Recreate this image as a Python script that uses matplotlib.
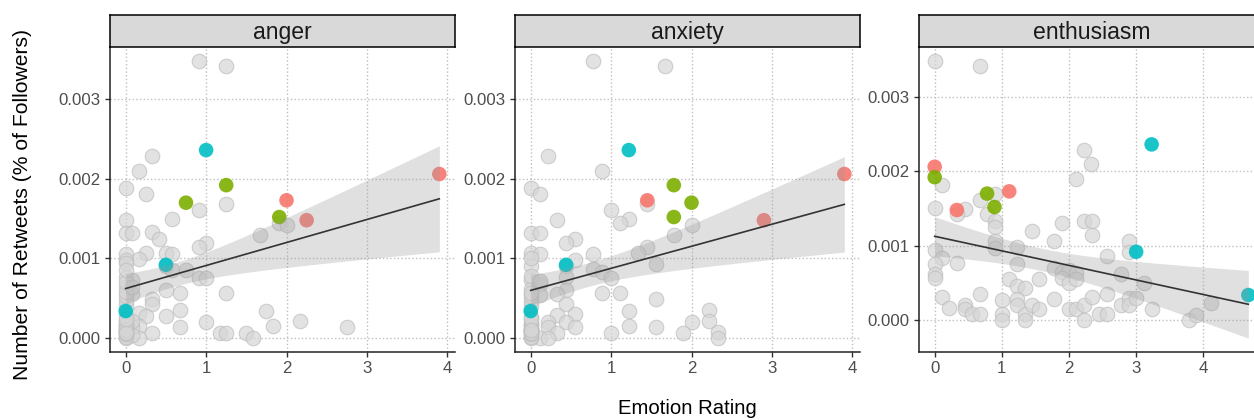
import numpy as np
import matplotlib
matplotlib.use("Agg")
from matplotlib import pyplot as plt

plt.rcParams['font.family'] = ['Liberation Sans', 'DejaVu Sans']

panels = ["anger", "anxiety", "enthusiasm"]

# grey points (x = emotion rating, y = retweets as share of followers)
anger_x = [0.91, 1.25, 0.33, 0.17, 0.0, 0.25, 1.25, 0.91, 0.58, 0.0, 0.0, 0.08, 0.33, 0.42, 1.91,
           2.0, 1.67, 1.0, 0.91, 0.25, 0.0, 0.5, 0.58, 0.17, 0.0, 0.0, 0.5, 0.58, 0.75, 0.91,
           1.0, 0.0, 0.08, 0.0, 0.08, 0.5, 0.67, 1.25, 0.33, 0.33, 0.17, 0.25, 0.5, 0.67, 0.0,
           0.17, 0.67, 0.33, 1.0, 1.17, 1.25, 1.5, 1.58, 1.75, 1.83, 2.17, 2.75, 0.0, 0.0, 0.17,
           0.08, 0.0, 0.0, 0.0, 0.0, 0.0, 0.0, 0.0, 0.0, 0.0, 0.08, 0.08, 0.08,
           0.0, 0.0, 0.0, 0.0, 0.0, 0.0, 0.0, 0.0, 0.0, 0.0]
anger_y = [0.00348, 0.00341, 0.00228, 0.00210, 0.00188, 0.00181, 0.00168, 0.00161, 0.00150, 0.00148,
           0.00132, 0.00132, 0.00133, 0.00125, 0.00145, 0.00142, 0.00130, 0.00119, 0.00114, 0.00107,
           0.00106, 0.00107, 0.00106, 0.00099, 0.00098, 0.00094, 0.00091, 0.00085, 0.00086, 0.00076,
           0.00075, 0.00077, 0.00073, 0.00064, 0.00056, 0.00060, 0.00057, 0.00057, 0.00049, 0.00043,
           0.00031, 0.00028, 0.00028, 0.00035, 0.00022, 0.00015, 0.00014, 0.00007, 0.00020, 0.00007,
           0.00007, 0.00007, 0.00000, 0.00034, 0.00015, 0.00022, 0.00014, 0.00010, 0.00000, 0.00000,
           0.00014, 0.00005, 0.00016, 0.00028, 0.00040, 0.00047, 0.00053, 0.00058, 0.00070, 0.00085,
           0.00004, 0.00022, 0.00064,
           0.00002, 0.00005, 0.00008, 0.00010, 0.00012, 0.00015, 0.00018, 0.00010, 0.00006, 0.00024]

anxiety_x = [0.78, 1.67, 0.22, 0.89, 0.0, 0.11, 1.45, 1.0, 1.22, 1.11, 0.33, 0.0, 0.11, 2.0, 1.78,
             0.55, 0.44, 1.45, 1.33, 0.78, 0.0, 0.11, 0.55, 0.0, 0.44, 1.56, 0.78, 0.89, 1.0, 0.44,
             0.0, 0.11, 0.0, 0.44, 0.33, 0.11, 0.89, 1.11, 0.44, 1.56, 0.33, 0.55, 1.22, 2.22, 0.22,
             0.44, 2.0, 2.22, 0.22, 0.55, 1.22, 1.56, 0.33, 1.0, 1.89, 2.33, 2.33, 0.11, 0.22, 0.0,
             0.0, 0.0, 0.0, 0.0, 0.0, 0.0, 0.0, 0.0, 0.0, 0.11,
             0.0, 0.0, 0.0, 0.0, 0.0, 0.0, 0.0, 0.0, 0.0, 0.0, 0.0]
anxiety_y = [0.00348, 0.00341, 0.00228, 0.00210, 0.00188, 0.00181, 0.00168, 0.00161, 0.00150, 0.00144,
             0.00148, 0.00132, 0.00132, 0.00142, 0.00130, 0.00125, 0.00120, 0.00114, 0.00107, 0.00106,
             0.00107, 0.00105, 0.00098, 0.00091, 0.00091, 0.00093, 0.00087, 0.00083, 0.00075, 0.00077,
             0.00073, 0.00068, 0.00062, 0.00060, 0.00056, 0.00054, 0.00057, 0.00057, 0.00043, 0.00049,
             0.00029, 0.00030, 0.00034, 0.00035, 0.00020, 0.00020, 0.00020, 0.00021, 0.00014, 0.00014,
             0.00015, 0.00014, 0.00007, 0.00007, 0.00007, 0.00008, 0.00000, 0.00000, 0.00000, 0.00000,
             0.00010, 0.00018, 0.00026, 0.00040, 0.00047, 0.00053, 0.00057, 0.00078, 0.00100, 0.00072,
             0.00002, 0.00005, 0.00008, 0.00010, 0.00012, 0.00015, 0.00018, 0.00010, 0.00006, 0.00024,
             0.00010]

enthusiasm_x = [0.0, 0.67, 2.22, 2.33, 2.11, 0.11, 0.0, 0.67, 0.45, 0.33, 0.78, 0.9, 0.9, 0.9, 0.9,
                0.9, 1.89, 2.22, 2.34, 2.34, 1.45, 1.78, 1.22, 0.0, 0.11, 2.89, 2.89, 2.56, 0.33, 0.0,
                1.22, 0.0, 0.0, 1.78, 1.89, 2.0, 2.11, 1.89, 2.0, 2.11, 2.78, 3.12, 1.11, 1.55, 1.22,
                1.34, 0.11, 0.67, 1.0, 1.22, 1.22, 0.22, 0.45, 0.45, 0.56, 0.67, 1.0, 1.0, 1.34, 1.34,
                1.45, 1.55, 1.78, 2.0, 2.11, 2.22, 2.22, 2.34, 2.45, 2.56, 2.56, 2.78, 2.89, 2.89, 3.0,
                3.23, 3.78, 3.89, 4.11]
enthusiasm_y = [0.00348, 0.00341, 0.00229, 0.00210, 0.00189, 0.00181, 0.00151, 0.00161, 0.00149, 0.00143,
                0.00143, 0.00169, 0.00133, 0.00125, 0.00107, 0.00097, 0.00131, 0.00133, 0.00133, 0.00115,
                0.00120, 0.00106, 0.00098, 0.00094, 0.00084, 0.00106, 0.00092, 0.00086, 0.00077, 0.00076,
                0.00076, 0.00062, 0.00057, 0.00070, 0.00065, 0.00068, 0.00064, 0.00057, 0.00050, 0.00055,
                0.00062, 0.00050, 0.00056, 0.00056, 0.00046, 0.00044, 0.00032, 0.00035, 0.00028, 0.00029,
                0.00021, 0.00016, 0.00021, 0.00015, 0.00008, 0.00008, 0.00008, 0.00000, 0.00008, 0.00000,
                0.00021, 0.00015, 0.00029, 0.00015, 0.00015, 0.00021, 0.00000, 0.00031, 0.00008, 0.00008,
                0.00035, 0.00021, 0.00030, 0.00021, 0.00030, 0.00015, 0.00000, 0.00007, 0.00023]

# highlighted tweets: red, green, cyan groups
anger_red_x, anger_red_y = [3.9, 2.0, 2.25], [0.00206, 0.00173, 0.00148]
anger_green_x, anger_green_y = [0.75, 1.25, 1.91], [0.00170, 0.00192, 0.00152]
anger_cyan_x, anger_cyan_y = [1.0, 0.5, 0.0], [0.00236, 0.00092, 0.00034]

anxiety_red_x, anxiety_red_y = [3.9, 1.45, 2.9], [0.00206, 0.00173, 0.00148]
anxiety_green_x, anxiety_green_y = [1.78, 2.0, 1.78], [0.00192, 0.00170, 0.00152]
anxiety_cyan_x, anxiety_cyan_y = [1.22, 0.44, 0.0], [0.00236, 0.00092, 0.00034]

enthusiasm_red_x, enthusiasm_red_y = [0.0, 1.11, 0.33], [0.00206, 0.00173, 0.00148]
enthusiasm_green_x, enthusiasm_green_y = [0.0, 0.78, 0.89], [0.00192, 0.00170, 0.00152]
enthusiasm_cyan_x, enthusiasm_cyan_y = [3.23, 3.0, 4.67], [0.00236, 0.00092, 0.00034]

grey = {"anger": (anger_x, anger_y), "anxiety": (anxiety_x, anxiety_y),
        "enthusiasm": (enthusiasm_x, enthusiasm_y)}
colored = {
    "anger": [(anger_red_x, anger_red_y), (anger_green_x, anger_green_y), (anger_cyan_x, anger_cyan_y)],
    "anxiety": [(anxiety_red_x, anxiety_red_y), (anxiety_green_x, anxiety_green_y),
                (anxiety_cyan_x, anxiety_cyan_y)],
    "enthusiasm": [(enthusiasm_red_x, enthusiasm_red_y), (enthusiasm_green_x, enthusiasm_green_y),
                   (enthusiasm_cyan_x, enthusiasm_cyan_y)],
}
group_colors = ["#F8766D", "#7CAE00", "#00BFC4"]

fig = plt.figure(figsize=(12.54, 4.2), dpi=100)

W, H = 1254, 420
lefts = [110, 515, 919]
pw = 345
top, bottom, strip_top = 47, 352, 15

for name, left in zip(panels, lefts):
    ax = fig.add_axes([left / W, 1 - bottom / H, pw / W, (bottom - top) / H])
    gx, gy = np.array(grey[name][0]), np.array(grey[name][1])
    ax.scatter(gx, gy, s=110, facecolor="#D6D6D6", edgecolor="#BDBDBD", linewidth=0.8,
               alpha=0.7, zorder=2)
    allx, ally = [gx], [gy]
    for (cx, cy), col in zip(colored[name], group_colors):
        ax.scatter(cx, cy, s=110, color=col, edgecolor="none", alpha=0.9, zorder=3)
        allx.append(np.array(cx))
        ally.append(np.array(cy))
    x = np.concatenate(allx)
    y = np.concatenate(ally)

    # linear fit with 95% confidence band
    n = len(x)
    b, a = np.polyfit(x, y, 1)
    resid = y - (a + b * x)
    s = np.sqrt(np.sum(resid ** 2) / (n - 2))
    xbar = x.mean()
    sxx = np.sum((x - xbar) ** 2)
    xs = np.linspace(x.min(), x.max(), 80)
    ys = a + b * xs
    se = s * np.sqrt(1 / n + (xs - xbar) ** 2 / sxx)
    lo, hi = ys - 1.984 * se, ys + 1.984 * se
    ax.fill_between(xs, lo, hi, color="#999999", alpha=0.3, linewidth=0, zorder=4)
    ax.plot(xs, ys, color="#333333", linewidth=1.2, zorder=5)

    xr = x.max() - x.min()
    ax.set_xlim(x.min() - 0.05 * xr, x.max() + 0.05 * xr)
    ymin, ymax = min(y.min(), lo.min()), max(y.max(), hi.max())
    yr = ymax - ymin
    ax.set_ylim(ymin - 0.05 * yr, ymax + 0.05 * yr)

    ax.set_xticks([0, 1, 2, 3, 4])
    ax.set_yticks([0, 0.001, 0.002, 0.003])
    ax.set_yticklabels(["0.000", "0.001", "0.002", "0.003"])
    ax.grid(True, color="#BFBFBF", linestyle=":", linewidth=1.0, zorder=0)
    ax.set_axisbelow(True)
    for side in ["top", "right"]:
        ax.spines[side].set_visible(False)
    for side in ["left", "bottom"]:
        ax.spines[side].set_color("#222222")
        ax.spines[side].set_linewidth(1.1)
    ax.tick_params(axis="both", length=3.5, width=1.0, color="#333333",
                   labelcolor="#4D4D4D", labelsize=12.1, pad=3)

    sax = fig.add_axes([left / W, 1 - top / H, pw / W, (top - strip_top) / H])
    sax.set_facecolor("#D9D9D9")
    sax.set_xticks([])
    sax.set_yticks([])
    for sp in sax.spines.values():
        sp.set_color("black")
        sp.set_linewidth(1.1)
    sax.text(0.5, 0.45, name, ha="center", va="center", fontsize=16.6, color="#1A1A1A",
             transform=sax.transAxes)

fig.text(23 / W, 1 - 205 / H, "Number of Retweets (% of Followers)", rotation=90,
         ha="center", va="center", fontsize=15.2, color="black")
fig.text(687 / W, 1 - 409 / H, "Emotion Rating", ha="center", va="center",
         fontsize=14.6, color="black")

fig.savefig("out.png", dpi=100)
